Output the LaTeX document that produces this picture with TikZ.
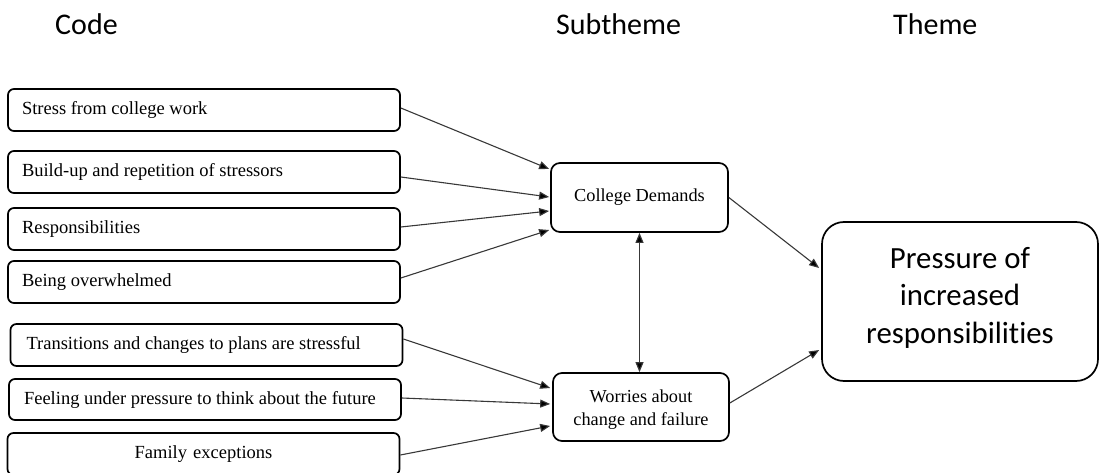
\documentclass[tikz,border=0pt]{standalone}
\usepackage{fontspec}
\setmainfont{Liberation Serif}
\newfontfamily\hdfont[Ligatures=NoCommon]{Carlito}
\usetikzlibrary{arrows.meta,calc}

\begin{document}
\begin{tikzpicture}[x=1pt,y=-1pt,
  codebox/.style={draw=black,line width=1.7pt,rounded corners=6pt,
    minimum height=42pt,inner xsep=13pt,inner ysep=0pt,text width=366pt,align=flush left,
    font=\fontsize{18.5}{23}\selectfont},
  subbox/.style={draw=black,line width=1.7pt,rounded corners=9pt,
    minimum width=177pt,minimum height=69pt,inner sep=0pt,align=center,
    font=\fontsize{18.3}{23}\selectfont},
  themebox/.style={draw=black,line width=1.7pt,rounded corners=22pt,
    minimum width=276pt,minimum height=159pt,inner sep=0pt,align=center,
    font=\hdfont\fontsize{30.8}{37.5}\selectfont},
  header/.style={anchor=base west,inner sep=0pt,font=\hdfont\fontsize{30}{36}\selectfont},
  link/.style={draw=black!78,line width=1.1pt,-{Triangle[length=10pt,width=8pt,fill=black]}},
  duallink/.style={draw=black!78,line width=1.1pt,{Triangle[length=10pt,width=8pt,fill=black]}-{Triangle[length=10pt,width=8pt,fill=black]}}
]
\useasboundingbox (0,0) rectangle (1100,473);

% column headings
\node[header] (hcode) at (55,35) {Code};
\node[header] (hsub) at (556,35) {Subtheme};
\node[header] (htheme) at (893,35) {Theme};

% codes
\node[codebox] (c1) at (204,110) {\hspace*{1pt}Stress from college work};
\node[codebox] (c2) at (204,172) {\hspace*{1pt}Build-up and repetition of stressors};
\node[codebox] (c3) at (204,229) {\hspace*{1pt}Responsibilities};
\node[codebox] (c4) at (204,282) {\hspace*{1pt}Being overwhelmed};
\node[codebox] (c5) at (206.5,345) {\hspace*{3pt}Transitions and changes to plans are stressful};
\node[codebox,minimum height=41pt] (c6) at (205,399.5) {\hspace*{2pt}Feeling under pressure to think about the future};
\node[codebox,align=center] (c7) at (203.5,454) {Family exceptions};

% subthemes
\node[subbox] (cd) at (639.5,197.5) {College Demands};
\node[subbox,minimum width=176pt,minimum height=68pt] (wo) at (641,407)
  {\raisebox{-3pt}[\height][\depth]{\parbox{170pt}{\centering\baselineskip=23pt Worries about\\change and failure}}};

% theme
\node[themebox] (th) at (960,301.5)
  {\raisebox{4pt}[\height][\depth]{\parbox{260pt}{\centering\baselineskip=37.5pt Pressure of\\increased\\responsibilities}}};

% codes into College Demands
\draw[link] ($(c1.east)+(0,-2)$) -- ($(cd.west)+(-1,-28.5)$);
\draw[link] ($(c2.east)+(0,5)$) -- ($(cd.west)+(-1,-0.5)$);
\draw[link] ($(c3.east)+(0,-2)$) -- ($(cd.west)+(-1,13.5)$);
\draw[link] ($(c4.east)+(0,-4)$) -- ($(cd.west)+(-1,32.5)$);

% codes into Worries about change and failure
\draw[link] ($(c5.east)+(0,-6)$) -- ($(wo.west)+(-2,-19)$);
\draw[link] ($(c6.east)+(0,-1.5)$) -- ($(wo.west)+(-2,-3)$);
\draw[link] ($(c7.east)+(0,1)$) -- ($(wo.west)+(-2,19)$);

% subthemes into theme
\draw[link] (cd.east) -- ($(th.west)+(-2,-33.5)$);
\draw[link] ($(wo.east)+(0,-4)$) -- ($(th.west)+(-2,48.5)$);

% link between subthemes
\draw[duallink] (cd.south) -- (cd.south |- wo.north);
\end{tikzpicture}
\end{document}
